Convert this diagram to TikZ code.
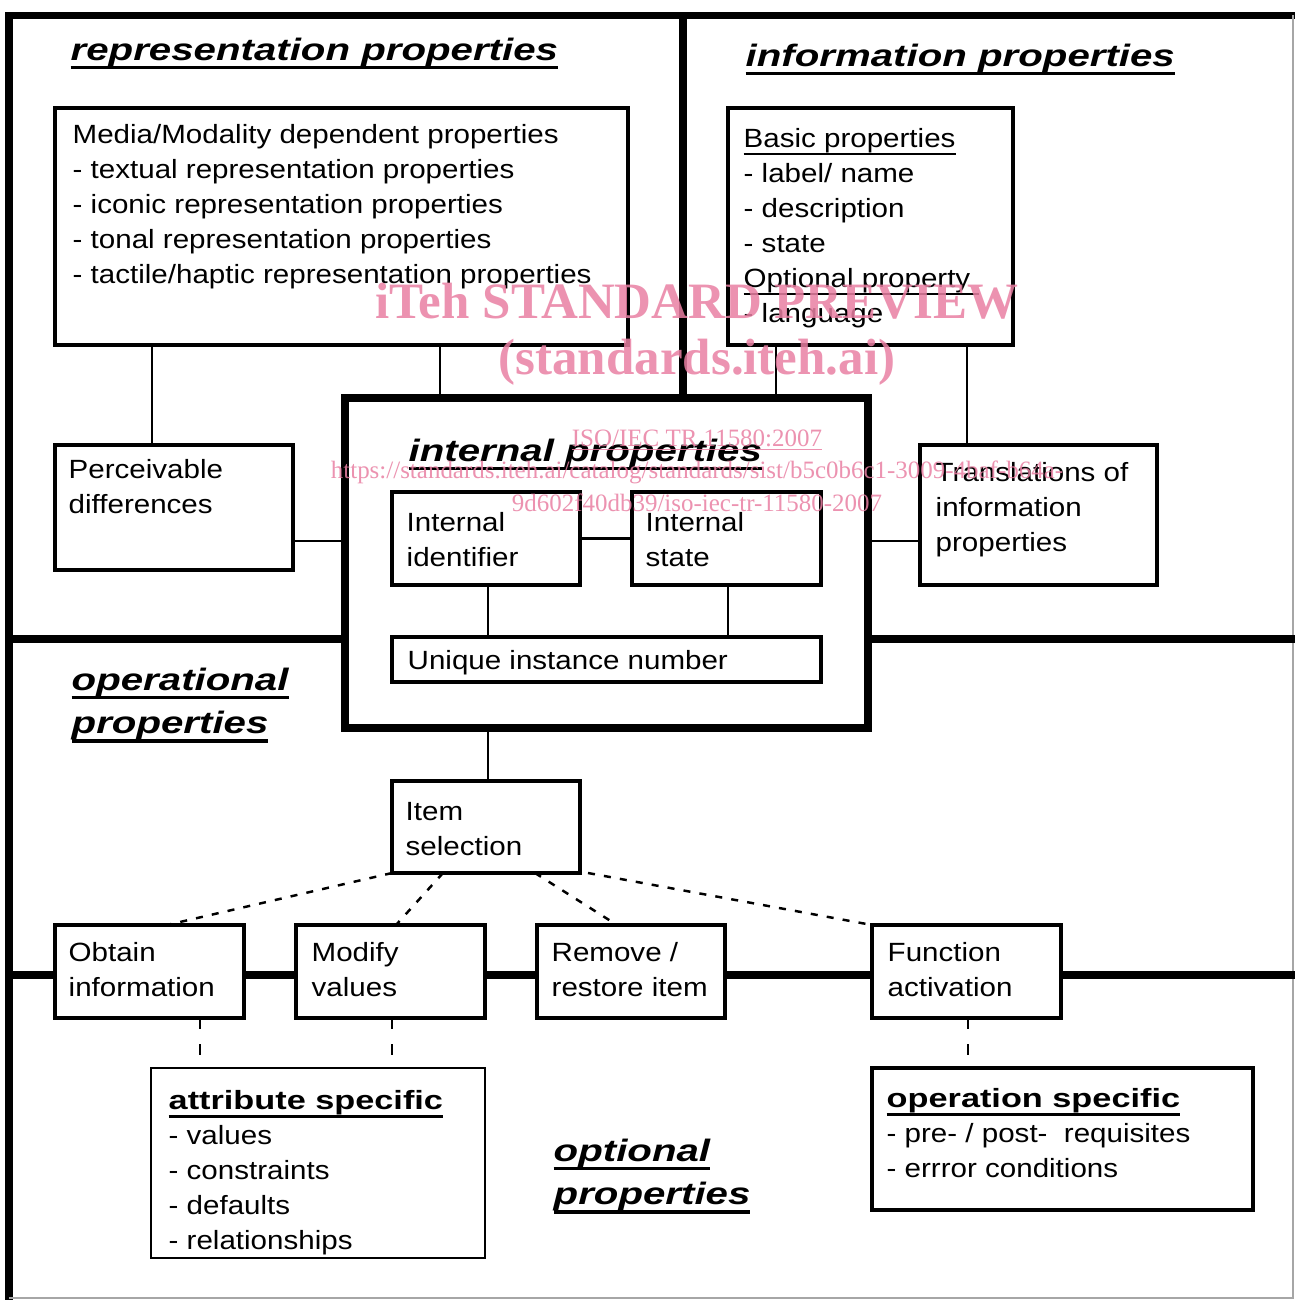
\documentclass[tikz,border=0pt]{standalone}
\usepackage{fontspec}
\setmainfont{Liberation Sans}[FakeStretch=1.12]
\newfontfamily\headfont{Liberation Sans}[FakeStretch=1.3]
\newfontfamily\wmfont{Liberation Serif}
\newsavebox{\ulbox}
\newcommand{\uln}[3]{\sbox{\ulbox}{#3}\rlap{\usebox{\ulbox}}\rule[-#2]{\wd\ulbox}{#1}}
\newcommand{\headline}[1]{\uln{1pt}{2.6pt}{#1}}
\newcommand{\boldline}[1]{{\headfont\bfseries\fontsize{7.5}{9.96}\selectfont\uln{0.8pt}{2.2pt}{#1}}}
\definecolor{wmpink}{RGB}{233,128,163}
\usetikzlibrary{fit}

\begin{document}
\begin{tikzpicture}[x=0.01cm, y=-0.01cm,
  box/.style={draw, fill=white, line width=1.4pt, inner sep=0pt, outer sep=0pt},
  bigbox/.style={draw, fill=white, line width=2.5pt, inner sep=0pt, outer sep=0pt},
  opbox/.style={draw, fill=white, line width=1.2pt, inner sep=0pt, outer sep=0pt},
  attrbox/.style={draw, fill=white, line width=0.7pt, inner sep=0pt, outer sep=0pt},
  txt/.style={font=\fontsize{7.5}{9.96}\selectfont, align=left, inner sep=0pt, anchor=north west},
  head/.style={font=\headfont\bfseries\itshape\fontsize{8.8}{12.3}\selectfont, align=left, inner sep=0pt, anchor=north west},
  divider/.style={line width=2.2pt},
  link/.style={line width=0.6pt},
  optlink/.style={line width=0.7pt, dash pattern=on 2pt off 2.6pt},
  reqlink/.style={line width=0.6pt, dash pattern=on 3pt off 4.5pt},
  wm/.style={text=wmpink, text opacity=0.85, inner sep=0pt}]

  \useasboundingbox (0,0) rectangle (1295,1300);

  \draw[divider] (9,1300) -- (9,15.5) -- (1295,15.5);
  \draw[gray!70, line width=0.6pt] (1293,15.5) -- (1293,1298) -- (9,1298);
  \draw[divider] (683,15.5) -- (683,398);
  \draw[divider] (9,639) -- (1295,639);
  \draw[divider] (9,975) -- (1295,975);

  \node[box, fit={(55,108) (628,345)}] (media) {};
  \node[box, fit={(728,108) (1013,345)}] (basic) {};
  \node[box, fit={(55,445) (293,570)}] (perc) {};
  \node[box, fit={(920,445) (1157,585)}] (trans) {};
  \node[bigbox, fit={(345,398) (868,728)}] (int) {};
  \node[box, fit={(392,492) (580,585)}] (ident) {};
  \node[box, fit={(632,492) (821,585)}] (state) {};
  \node[box, fit={(392,637) (821,682)}] (unique) {};
  \node[opbox, fit={(392,781) (580,873)}] (item) {};
  \node[opbox, fit={(55,925) (244,1018)}] (obtain) {};
  \node[opbox, fit={(296,925) (485,1018)}] (modify) {};
  \node[opbox, fit={(537,925) (725,1018)}] (remove) {};
  \node[opbox, fit={(872,925) (1061,1018)}] (func) {};
  \node[attrbox, fit={(151,1068) (485,1258)}] (attr) {};
  \node[opbox, fit={(872,1068) (1253,1210)}] (ops) {};

  \node[head] (repTitle) at (70,37) {\headline{representation properties}};
  \node[head] (infTitle) at (745,43) {\headline{information properties}};
  \node[head] (intTitle) at (408,438) {\headline{internal properties}};
  \node[head] (opTitle) at (71,667) {\headline{operational}\\\headline{properties}};
  \node[head] (optTitle) at (553,1138) {\headline{optional}\\\headline{properties}};

  \node[txt] (mediaText) at (72,124) {Media/Modality dependent properties\\- textual representation properties\\- iconic representation properties\\- tonal representation properties\\- tactile/haptic representation properties};
  \node[txt] (basicText) at (743,128) {\uln{0.6pt}{2pt}{Basic properties}\\- label/ name\\- description\\- state\\\uln{0.6pt}{2pt}{Optional property\ }\\- language};
  \node[txt] (percText) at (68,459) {Perceivable\\differences};
  \node[txt] (transText) at (935,462) {Translations of\\information\\properties};
  \node[txt] (identText) at (406,512) {Internal\\identifier};
  \node[txt] (stateText) at (645,512) {Internal\\state};
  \node[txt] (uniqueText) at (407,650) {Unique instance number};
  \node[txt] (itemText) at (405,802) {Item\\selection};
  \node[txt] (obtainText) at (68,942) {Obtain\\information};
  \node[txt] (modifyText) at (311,942) {Modify\\values};
  \node[txt] (removeText) at (551,942) {Remove /\\restore item};
  \node[txt] (funcText) at (887,942) {Function\\activation};
  \node[txt] (attrText) at (168,1090) {\boldline{attribute specific}\\- values\\- constraints\\- defaults\\- relationships};
  \node[txt] (opsText) at (886,1088) {\boldline{operation specific}\\- pre- / post-\ \ requisites\\- errror conditions};

  \draw[link] ([shift={(97,0)}]media.south west) -- ([shift={(97,0)}]perc.north west);
  \draw[link] ([shift={(385,0)}]media.south west) -- ([shift={(95,0)}]int.north west);
  \draw[link] ([shift={(48,0)}]basic.south west) -- ([shift={(431,0)}]int.north west);
  \draw[link] ([shift={(239,0)}]basic.south west) -- ([shift={(47,0)}]trans.north west);
  \draw[link] ([shift={(0,96)}]perc.north east) -- ([shift={(0,143)}]int.north west);
  \draw[link] ([shift={(0,143)}]int.north east) -- ([shift={(0,96)}]trans.north west);
  \draw[link] (ident.east) -- (state.west);
  \draw[link] ([shift={(96,0)}]ident.south west) -- ([shift={(96,0)}]unique.north west);
  \draw[link] ([shift={(96,0)}]state.south west) -- ([shift={(336,0)}]unique.north west);
  \draw[link] ([shift={(143,0)}]int.south west) -- ([shift={(96,0)}]item.north west);

  \draw[optlink] (item.south west) -- ([shift={(112,0)}]obtain.north west);
  \draw[optlink] ([shift={(51,0)}]item.south west) -- ([shift={(100,0)}]modify.north west);
  \draw[optlink] ([shift={(143,0)}]item.south west) -- ([shift={(80,0)}]remove.north west);
  \draw[optlink] ([shift={(196,0)}]item.south west) -- (func.north west);

  \draw[reqlink] ([shift={(145,0)}]obtain.south west) -- ([shift={(49,0)}]attr.north west);
  \draw[reqlink] ([shift={(96,0)}]modify.south west) -- ([shift={(241,0)}]attr.north west);
  \draw[reqlink] ([shift={(96,0)}]func.south west) -- ([shift={(96,0)}]ops.north west);

  \node[wm, font=\wmfont\bfseries\fontsize{14.5}{16}\selectfont] (wmTitle) at (697,301) {iTeh STANDARD PREVIEW};
  \node[wm, font=\wmfont\bfseries\fontsize{14.5}{16}\selectfont] (wmSite) at (697,362) {(standards.iteh.ai)};
  \node[wm, font=\wmfont\fontsize{7.1}{8}\selectfont] (wmRef) at (697,440) {\uln{0.3pt}{1pt}{ISO/IEC TR 11580:2007}};
  \node[wm, font=\wmfont\fontsize{7.1}{8}\selectfont] (wmUrl) at (697,472) {https://standards.iteh.ai/catalog/standards/sist/b5c0b6c1-3009-4baf-b64a-};
  \node[wm, font=\wmfont\fontsize{7.1}{8}\selectfont] (wmDoc) at (697,503) {9d602f40db39/iso-iec-tr-11580-2007};
\end{tikzpicture}
\end{document}
